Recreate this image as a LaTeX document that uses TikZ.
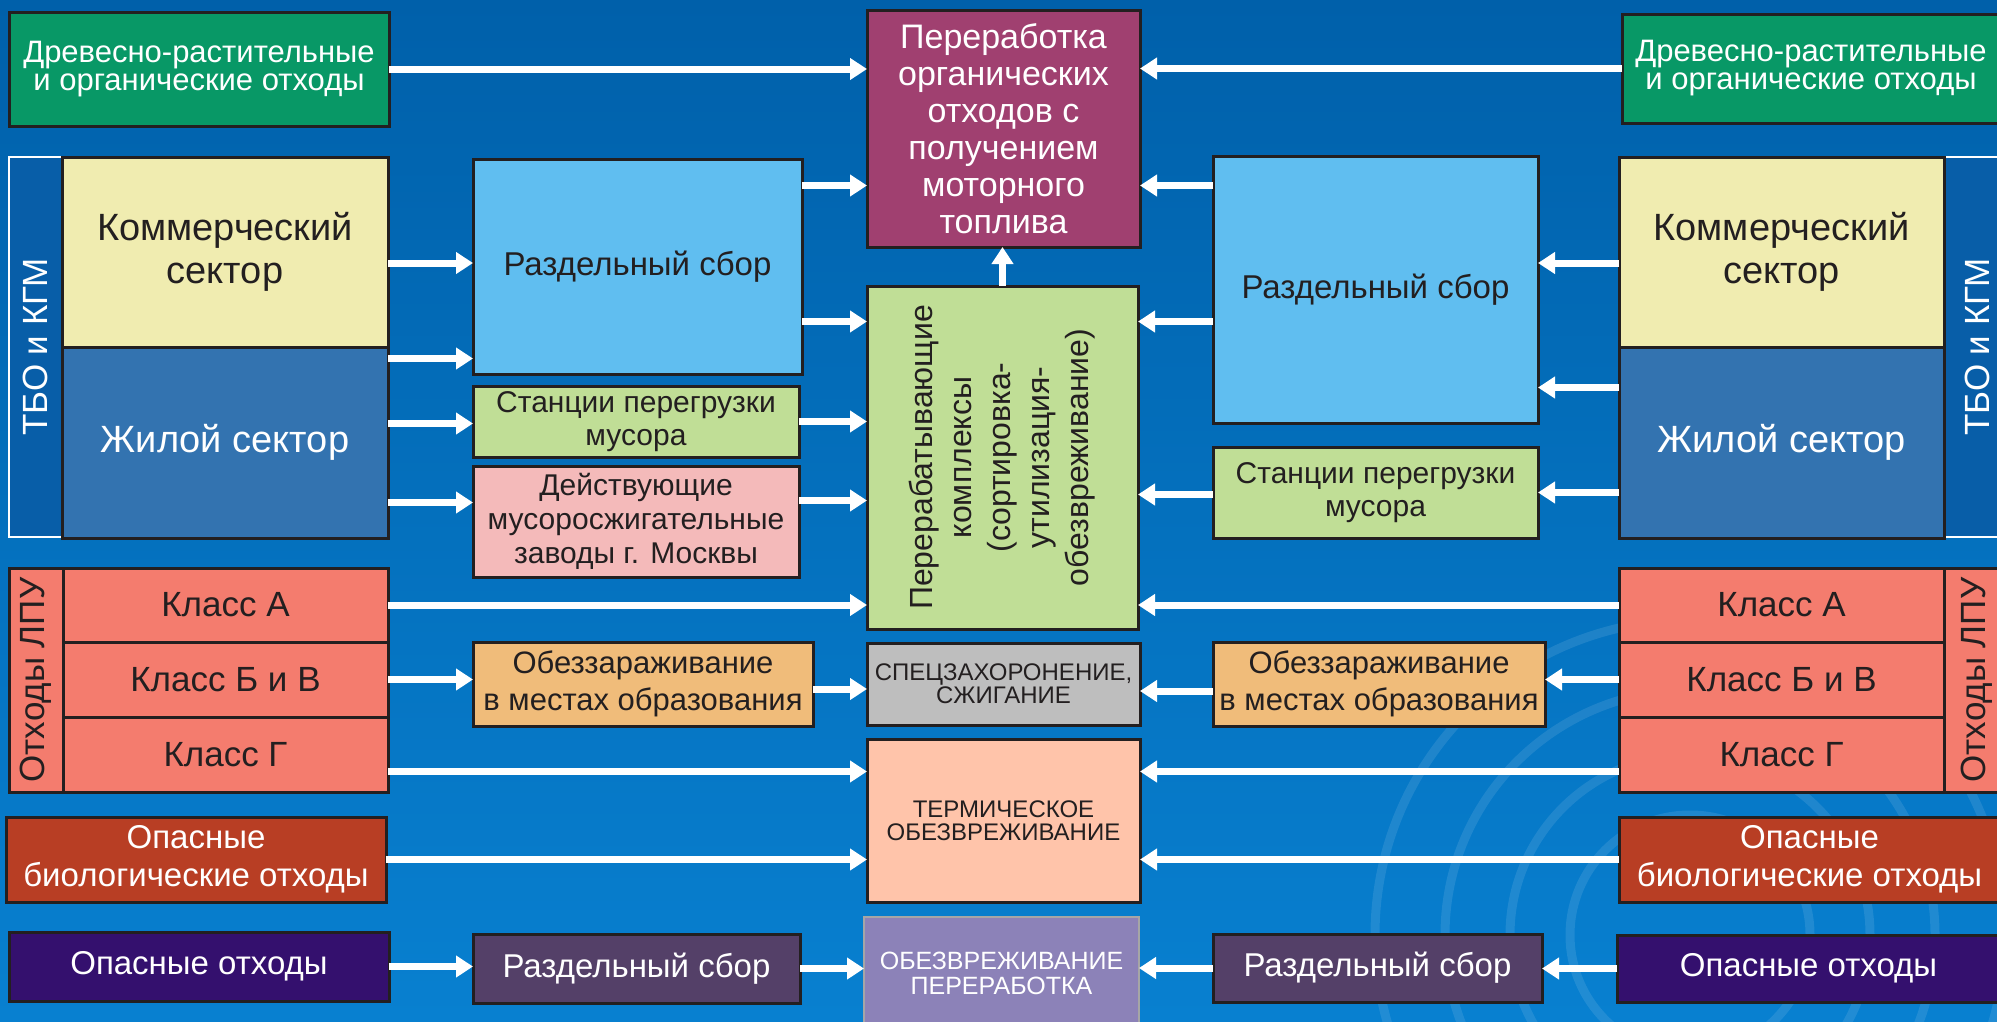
\documentclass[tikz,border=0pt]{standalone}
\usepackage{fontspec}
\setmainfont{Liberation Sans}
\usetikzlibrary{arrows.meta, positioning}

\definecolor{bgtop}{RGB}{0,96,170}
\definecolor{bgbot}{RGB}{8,128,208}
\definecolor{stripblue}{RGB}{8,94,168}
\definecolor{cdg}{RGB}{8,152,102}
\definecolor{ccom}{RGB}{240,236,176}
\definecolor{czhil}{RGB}{51,115,176}
\definecolor{crazd}{RGB}{96,190,240}
\definecolor{cgreen}{RGB}{192,222,150}
\definecolor{cdeist}{RGB}{244,186,186}
\definecolor{cpurp}{RGB}{160,64,112}
\definecolor{cspec}{RGB}{190,190,190}
\definecolor{cterm}{RGB}{255,196,170}
\definecolor{cobzv}{RGB}{140,130,184}
\definecolor{ckl}{RGB}{244,124,110}
\definecolor{cobez}{RGB}{240,188,122}
\definecolor{cbio}{RGB}{184,62,36}
\definecolor{cdang}{RGB}{52,16,110}
\definecolor{crazdb}{RGB}{84,64,104}
\definecolor{ink}{RGB}{35,31,32}

\newcommand\fsz[2]{\fontsize{#1pt}{#2pt}\selectfont}

\tikzset{%
   box/.style={
      draw=ink,
      line width=3pt,
      inner sep=0pt,
      outer sep=0pt,
      align=center,
      text=ink
   },
   strip/.style={
      draw=white,
      line width=2pt,
      fill=stripblue,
      inner sep=0pt,
      outer sep=0pt,
      text=white,
      font=\fsz{35}{35}
   },
   klbox/.style={
      box,
      fill=ckl,
      minimum width=325pt,
      minimum height=75pt,
      font=\fsz{35}{35}
   },
   arr/.style={
      draw=white,
      line width=7pt,
      -{Triangle[length=17pt, width=21pt]}
   },
   swirl/.style={
      draw=white,
      opacity=.1,
      line width=9pt
   },
}
% arrow from an anchor of one node to the facing side of another, at a vertical offset
\newcommand\link[3]{\draw[arr] ([yshift=#3]#1) -- ([yshift=#3]#1 -| #2);}

\begin{document}
\begin{tikzpicture}[x=1pt, y=-1pt]
\useasboundingbox (0,0) rectangle (1997,1021);
\clip (0,0) rectangle (1997,1021);
\shade[top color=bgtop, bottom color=bgbot] (0,0) rectangle (1997,1021);
\foreach \r in {120,180,245,315}
   \draw[swirl] (1690,935) circle[radius=\r];

% centre column
\node[box, fill=cpurp, text=white, minimum width=273pt, minimum height=237pt, font=\fsz{34}{37}] (pererab) at (1003.5,128.5)
   {Переработка\\ органических\\ отходов с\\ получением\\ моторного\\ топлива};
\node[box, fill=cgreen, minimum width=271pt, minimum height=343pt, font=\fsz{32}{39}] (kompl) at (1002.5,457.5)
   {\rotatebox{90}{\begin{tabular}{@{}c@{}}Перерабатывающие\\ комплексы\\ (сортировка-\\ утилизация-\\ обезвреживание)\end{tabular}}};
\node[box, fill=cspec, minimum width=273pt, minimum height=82pt, font=\fsz{24}{23}] (spec) at (1003.5,684)
   {СПЕЦЗАХОРОНЕНИЕ,\\ СЖИГАНИЕ};
\node[box, fill=cterm, minimum width=273pt, minimum height=163pt, font=\fsz{24}{23}] (term) at (1003.5,820.5)
   {ТЕРМИЧЕСКОЕ\\ ОБЕЗВРЕЖИВАНИЕ};
\node[box, draw=black!35, line width=2pt, fill=cobzv, text=white, minimum width=275pt, minimum height=113pt, font=\fsz{25}{25}] (obzv) at (1001.5,973.5)
   {ОБЕЗВРЕЖИВАНИЕ\\ ПЕРЕРАБОТКА};

% left side
\node[box, fill=cdg, text=white, minimum width=380pt, minimum height=114pt, font=\fsz{31}{28}] (dgL) at (199,69)
   {Древесно-растительные\\ и органические отходы};
\node[strip, minimum width=53pt, minimum height=380pt] (tboL) at (35.5,347) {\rotatebox{90}{ТБО и КГМ}};
\node[box, fill=ccom, minimum width=326pt, minimum height=190pt, font=\fsz{38}{43}] (comL) at (225,252) {Коммерческий\\ сектор};
\node[box, fill=czhil, text=white, minimum width=326pt, minimum height=191pt, font=\fsz{38}{43}, below=0pt of comL] (zhilL) {Жилой сектор};
\node[box, fill=crazd, minimum width=329pt, minimum height=215pt, font=\fsz{33}{38}] (razdL) at (637.5,266.5) {Раздельный сбор};
\node[box, fill=cgreen, minimum width=326pt, minimum height=71pt, font=\fsz{30}{33}] (stanL) at (636,421.5) {Станции перегрузки\\ мусора};
\node[box, fill=cdeist, minimum width=326pt, minimum height=111pt, font=\fsz{30}{34}] (deistL) at (636,521.5)
   {Действующие\\ мусоросжигательные\\ заводы г. Москвы};
\node[box, fill=ckl, minimum width=54pt, minimum height=224pt, font=\fsz{35}{35}] (lpuL) at (36,680) {\rotatebox{90}{Отходы ЛПУ}};
\node[klbox, minimum height=74pt] (klAL) at (225.5,605) {Класс А};
\node[klbox, below=0pt of klAL] (klBL) {Класс Б и В};
\node[klbox, below=0pt of klBL] (klGL) {Класс Г};
\node[box, fill=cobez, minimum width=340pt, minimum height=84pt, font=\fsz{31}{37}] (obezL) at (643,684)
   {Обеззараживание\\ в местах образования};
\node[box, fill=cbio, text=white, minimum width=380pt, minimum height=85pt, font=\fsz{33}{38}] (bioL) at (196,859.5)
   {Опасные\\ биологические отходы};
\node[box, fill=cdang, text=white, minimum width=380pt, minimum height=69pt, font=\fsz{33}{38}] (dangL) at (199,966.5) {Опасные отходы};
\node[box, fill=crazdb, text=white, minimum width=327pt, minimum height=69pt, font=\fsz{33}{38}] (razdBL) at (636.5,968.5) {Раздельный сбор};

% right side
\node[box, fill=cdg, text=white, minimum width=378pt, minimum height=109pt, font=\fsz{31}{28}] (dgR) at (1811,68.5)
   {Древесно-растительные\\ и органические отходы};
\node[strip, minimum width=66pt, minimum height=380pt] (tboR) at (1977,347) {\rotatebox{90}{ТБО и КГМ}};
\node[box, fill=ccom, minimum width=325pt, minimum height=190pt, font=\fsz{38}{43}] (comR) at (1781.5,252) {Коммерческий\\ сектор};
\node[box, fill=czhil, text=white, minimum width=325pt, minimum height=191pt, font=\fsz{38}{43}, below=0pt of comR] (zhilR) {Жилой сектор};
\node[box, fill=crazd, minimum width=325pt, minimum height=267pt, font=\fsz{33}{38}] (razdR) at (1375.5,289.5) {Раздельный сбор};
\node[box, fill=cgreen, minimum width=325pt, minimum height=91pt, font=\fsz{30}{33}] (stanR) at (1375.5,492.5) {Станции перегрузки\\ мусора};
\node[box, fill=ckl, minimum width=66pt, minimum height=224pt, font=\fsz{35}{35}] (lpuR) at (1977,680) {\rotatebox{90}{Отходы ЛПУ}};
\node[klbox, minimum height=74pt] (klAR) at (1781.5,605) {Класс А};
\node[klbox, below=0pt of klAR] (klBR) {Класс Б и В};
\node[klbox, below=0pt of klBR] (klGR) {Класс Г};
\node[box, fill=cobez, minimum width=332pt, minimum height=84pt, font=\fsz{31}{37}] (obezR) at (1379,684)
   {Обеззараживание\\ в местах образования};
\node[box, fill=cbio, text=white, minimum width=381pt, minimum height=85pt, font=\fsz{33}{38}] (bioR) at (1809.5,859.5)
   {Опасные\\ биологические отходы};
\node[box, fill=cdang, text=white, minimum width=383pt, minimum height=67pt, font=\fsz{33}{38}] (dangR) at (1808.5,968.5) {Опасные отходы};
\node[box, fill=crazdb, text=white, minimum width=329pt, minimum height=68pt, font=\fsz{33}{38}] (razdBR) at (1377.5,968) {Раздельный сбор};

% arrows, left to right
\link{dgL.east}{pererab.west}{0pt}
\link{razdL.east}{pererab.west}{81pt}
\link{razdL.east}{kompl.west}{-55pt}
\link{comL.east}{razdL.west}{-11pt}
\link{zhilL.east}{razdL.west}{84pt}
\link{zhilL.east}{stanL.west}{19pt}
\link{zhilL.east}{deistL.west}{-60pt}
\link{stanL.east}{kompl.west}{0pt}
\link{deistL.east}{kompl.west}{21pt}
\link{klAL.east}{kompl.west}{0pt}
\link{klBL.east}{obezL.west}{0pt}
\link{obezL.east}{spec.west}{-5pt}
\link{klGL.east}{term.west}{-17pt}
\link{bioL.east}{term.west}{0pt}
\link{dangL.east}{razdBL.west}{0pt}
\link{razdBL.east}{obzv.west}{0pt}

% arrows, right to left
\link{dgR.west}{pererab.east}{0pt}
\link{razdR.west}{pererab.east}{104pt}
\link{razdR.west}{kompl.east}{-32pt}
\link{comR.west}{razdR.east}{-11pt}
\link{zhilR.west}{razdR.east}{55pt}
\link{zhilR.west}{stanR.east}{-50pt}
\link{stanR.west}{kompl.east}{-2pt}
\link{klAR.west}{kompl.east}{0pt}
\link{klBR.west}{obezR.east}{0pt}
\link{obezR.west}{spec.east}{-7pt}
\link{klGR.west}{term.east}{-17pt}
\link{bioR.west}{term.east}{0pt}
\link{dangR.west}{razdBR.east}{0pt}
\link{razdBR.west}{obzv.east}{0pt}

\draw[arr] (kompl.north) -- (kompl.north |- pererab.south);
\end{tikzpicture}
\end{document}
